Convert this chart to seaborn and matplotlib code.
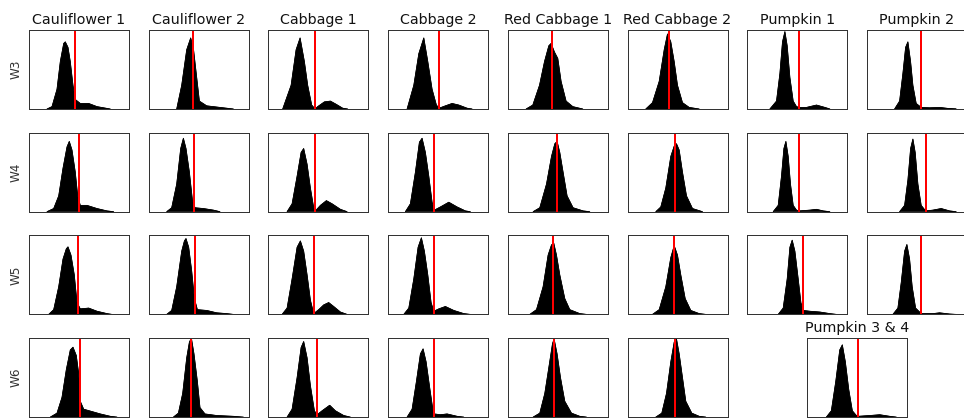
import matplotlib
matplotlib.use("Agg")
import matplotlib.pyplot as plt
import seaborn as sns

# ---------------- data ----------------
columns = ["Cauliflower 1", "Cauliflower 2", "Cabbage 1", "Cabbage 2",
           "Red Cabbage 1", "Red Cabbage 2", "Pumpkin 1", "Pumpkin 2"]
last_row_columns = ["Cauliflower 1", "Cauliflower 2", "Cabbage 1", "Cabbage 2",
                    "Red Cabbage 1", "Red Cabbage 2", "Pumpkin 3 & 4"]
weeks = ["W3", "W4", "W5", "W6"]

# histogram outlines: x in % of panel width, y = relative frequency
w3_x = [
    [18, 23, 28, 31.3, 34.7, 36.3, 39, 41.3, 44, 46.3, 51.3, 59.7, 68, 81.3],
    [28, 33, 38, 42, 44.7, 48, 50.7, 58, 71.3, 84.7],
    [14.3, 22.7, 27.7, 31.7, 36, 39.3, 43.3, 46.7, 49.3, 56, 62, 67.7, 74.3, 79.3],
    [19, 25.7, 30.7, 35.7, 39.7, 44, 48.3, 51, 57.3, 64, 70.7, 79, 84],
    [18.3, 25, 31.7, 36.7, 41, 43.3, 46.7, 50, 53.3, 58.3, 65, 75],
    [18.3, 25, 31.7, 36.7, 40, 43.3, 46.7, 50, 55, 61.7, 71.7],
    [22.7, 29.3, 32.7, 35.3, 37.7, 40, 42.7, 46, 49.3, 52, 59.3, 69.3, 77.7, 82.7],
    [27.7, 32.7, 36, 38.7, 41, 43.7, 46, 49.3, 54.3, 62.7, 72.7, 82.7, 89.3],
]
w3_y = [
    [0, 0.03, 0.25, 0.6, 0.83, 0.85, 0.78, 0.6, 0.3, 0.12, 0.07, 0.07, 0.03, 0],
    [0, 0.3, 0.75, 0.9, 0.77, 0.4, 0.1, 0.04, 0.02, 0],
    [0, 0.3, 0.75, 0.9, 0.6, 0.3, 0.05, 0.0, 0.03, 0.09, 0.1, 0.06, 0.01, 0],
    [0, 0.3, 0.7, 0.9, 0.6, 0.25, 0.05, 0.01, 0.04, 0.07, 0.05, 0.01, 0],
    [0, 0.05, 0.3, 0.6, 0.8, 0.83, 0.72, 0.64, 0.35, 0.1, 0.03, 0],
    [0, 0.08, 0.35, 0.75, 0.95, 0.85, 0.6, 0.3, 0.08, 0.02, 0],
    [0, 0.1, 0.45, 0.85, 0.98, 0.8, 0.4, 0.1, 0.03, 0.02, 0.02, 0.05, 0.02, 0],
    [0, 0.1, 0.45, 0.78, 0.85, 0.6, 0.3, 0.07, 0.02, 0.015, 0.02, 0.005, 0],
]
w3_cut = [46.3, 44, 46.7, 51, 43.7, 41.7, 52, 54.3]

w4_x = [
    [18, 24.7, 29.7, 34, 38, 40.3, 43, 46.3, 48.7, 51.3, 58, 68, 78, 84.7],
    [18, 23, 28, 32, 34.7, 37.3, 40.7, 43.7, 46.3, 54.7, 64.7, 71.3],
    [18.7, 23.7, 28.7, 32.7, 35.3, 38.7, 42, 45.3, 47, 52, 58, 63.7, 72, 78.7],
    [17.3, 22.3, 27.3, 31.3, 34, 37.3, 40.7, 44, 46.3, 52.3, 60.7, 69, 77.3, 82.3],
    [25.3, 32, 38.7, 43.7, 47, 49.3, 52, 55.3, 59.3, 65.3, 75.3, 82],
    [28.3, 33.3, 38.3, 43.3, 46.7, 49, 51.7, 55, 59, 65, 75],
    [26, 31, 34.3, 36.7, 38.7, 41, 43.3, 46, 49.3, 52, 62.7, 69.3, 76, 82.7],
    [32.7, 37.7, 41, 43.7, 46, 48.3, 51, 54.3, 58.7, 66, 74.3, 82.7, 89.3],
]
w4_y = [
    [0, 0.04, 0.2, 0.55, 0.82, 0.89, 0.78, 0.5, 0.2, 0.08, 0.08, 0.04, 0.01, 0],
    [0, 0.05, 0.35, 0.8, 0.93, 0.8, 0.5, 0.15, 0.05, 0.04, 0.02, 0],
    [0, 0.1, 0.45, 0.75, 0.8, 0.6, 0.3, 0.05, 0.01, 0.08, 0.14, 0.1, 0.03, 0],
    [0, 0.1, 0.5, 0.88, 0.93, 0.75, 0.45, 0.12, 0.02, 0.06, 0.12, 0.06, 0.01, 0],
    [0, 0.05, 0.35, 0.7, 0.86, 0.89, 0.75, 0.5, 0.2, 0.05, 0.01, 0],
    [0, 0.06, 0.3, 0.7, 0.83, 0.86, 0.78, 0.5, 0.2, 0.04, 0],
    [0, 0.08, 0.45, 0.8, 0.89, 0.7, 0.35, 0.08, 0.02, 0.01, 0.02, 0.03, 0.01, 0],
    [0, 0.08, 0.4, 0.8, 0.92, 0.75, 0.35, 0.08, 0.01, 0.02, 0.04, 0.01, 0],
]
w4_cut = [49.7, 45.3, 47, 46.3, 48.7, 47.3, 52, 58.7]

w5_x = [
    [19.7, 24.7, 29.7, 34, 37.3, 39, 42, 45.3, 48, 51.3, 59.7, 68, 78, 83],
    [18, 23, 28, 33, 35.7, 37.3, 40, 43, 45.7, 48.7, 58, 68, 78, 84.7],
    [13.7, 18.7, 23.7, 28.7, 32, 35.3, 38.7, 42, 45.3, 50.3, 55.3, 60.3, 65.3, 72, 78.7],
    [15.7, 20.7, 25.7, 30, 33.3, 36.3, 39.7, 43, 45.7, 50.7, 57.3, 65.7, 75.7, 82.3],
    [22, 28.7, 35.3, 40.3, 43.7, 46, 48.7, 52, 57, 62, 72, 78.7],
    [25, 31.7, 38.3, 43.3, 46.7, 50, 53.3, 57.7, 63.3, 71.7, 78.3],
    [31, 36, 40, 42.7, 45, 47.7, 51, 53.7, 56, 62.7, 72.7, 82.7, 89.3],
    [26, 31, 34.3, 37.7, 40, 42.7, 45.3, 48.7, 54.3, 66, 72.7, 82.7, 89.3],
]
w5_y = [
    [0, 0.06, 0.35, 0.7, 0.83, 0.855, 0.75, 0.5, 0.15, 0.07, 0.08, 0.04, 0.01, 0],
    [0, 0.05, 0.35, 0.8, 0.93, 0.96, 0.85, 0.55, 0.2, 0.06, 0.05, 0.02, 0.01, 0],
    [0, 0.08, 0.45, 0.85, 0.93, 0.8, 0.5, 0.18, 0.01, 0.06, 0.12, 0.15, 0.1, 0.03, 0],
    [0, 0.08, 0.45, 0.85, 0.97, 0.8, 0.5, 0.15, 0.04, 0.07, 0.1, 0.05, 0.01, 0],
    [0, 0.06, 0.35, 0.75, 0.88, 0.9, 0.75, 0.5, 0.2, 0.06, 0.01, 0],
    [0, 0.06, 0.35, 0.72, 0.87, 0.75, 0.5, 0.2, 0.05, 0.01, 0],
    [0, 0.08, 0.45, 0.85, 0.94, 0.8, 0.45, 0.15, 0.05, 0.04, 0.03, 0.01, 0],
    [0, 0.08, 0.4, 0.8, 0.885, 0.7, 0.35, 0.08, 0.01, 0.01, 0.02, 0.005, 0],
]
w5_cut = [48.7, 46.7, 45.3, 45.7, 45.3, 46.3, 56, 54.3]

w6_x = [
    [21.3, 28, 33, 37.3, 41.3, 44, 47.3, 49.7, 51.3, 54.7, 63, 71.3, 81.3, 88],
    [24.7, 29.7, 34, 38, 40.7, 42.7, 45.3, 48.7, 51.3, 56.3, 68, 84.7, 94.7],
    [18.7, 23.7, 28.7, 32.7, 35.3, 38.7, 42, 46, 48.7, 53.7, 61.3, 67, 75.3, 82],
    [19, 24, 28.3, 32.3, 35, 38, 41.3, 44.7, 46.3, 52.3, 59, 69, 75.7],
    [25.3, 32, 37, 41.3, 44.7, 46.3, 49.3, 52.7, 57, 63.7, 72, 78.7],
    [28.3, 34.3, 39, 43.3, 46.7, 49, 51.7, 55, 58.3, 64.3, 71.7, 78.3],
    [19.3, 24.3, 28.7, 32.7, 35.3, 38.3, 41.7, 45.3, 49.3, 51, 62.7, 72.7, 82.7, 89.3],
]
w6_y = [
    [0, 0.05, 0.25, 0.6, 0.85, 0.885, 0.78, 0.55, 0.2, 0.1, 0.07, 0.04, 0.01, 0],
    [0, 0.05, 0.3, 0.75, 0.95, 1.0, 0.8, 0.45, 0.12, 0.04, 0.02, 0.01, 0],
    [0, 0.1, 0.5, 0.88, 0.957, 0.75, 0.4, 0.08, 0.03, 0.08, 0.15, 0.08, 0.02, 0],
    [0, 0.1, 0.45, 0.8, 0.864, 0.7, 0.4, 0.1, 0.04, 0.03, 0.04, 0.01, 0],
    [0, 0.05, 0.3, 0.65, 0.93, 0.99, 0.8, 0.5, 0.2, 0.05, 0.01, 0],
    [0, 0.05, 0.3, 0.7, 0.95, 0.99, 0.8, 0.5, 0.2, 0.05, 0.01, 0],
    [0, 0.08, 0.45, 0.85, 0.915, 0.7, 0.35, 0.08, 0.02, 0.01, 0.02, 0.03, 0.01, 0],
]
w6_cut = [51.3, 42.7, 48.7, 46.3, 46.3, 47, 51]

rows_x = [w3_x, w4_x, w5_x, w6_x]
rows_y = [w3_y, w4_y, w5_y, w6_y]
rows_cut = [w3_cut, w4_cut, w5_cut, w6_cut]

# ---------------- figure ----------------
sns.set_style("white")
plt.rcParams["font.family"] = ["DejaVu Sans"]

W, H, DPI = 964, 419, 72
fig = plt.figure(figsize=(W / DPI, H / DPI), dpi=DPI)

col_left0, col_step, ax_w = 29, 119.7, 100
row_top0, row_step, ax_h = 30, 102.7, 79


def make_ax(left_px, top_px):
    return fig.add_axes([left_px / W, 1 - (top_px + ax_h) / H, ax_w / W, ax_h / H])


for r, week in enumerate(weeks):
    top = row_top0 + r * row_step
    n = len(rows_x[r])
    for c in range(n):
        if r == 3 and c == 6:
            left = col_left0 + 6.5 * col_step
            title = last_row_columns[6]
        else:
            left = col_left0 + c * col_step
            title = columns[c] if r == 0 else None
        ax = make_ax(left, top)
        xs, ys = rows_x[r][c], rows_y[r][c]
        ax.fill(list(xs) + [xs[-1], xs[0]], list(ys) + [0, 0],
                facecolor="black", edgecolor="black", lw=0.6)
        sns.lineplot(x=xs, y=ys, ax=ax, color="black", lw=0.8, sort=False,
                     estimator=None)
        ax.axvline(rows_cut[r][c], color="red", lw=2)
        ax.set_xlim(0, 100)
        ax.set_ylim(0, 1.0)
        ax.set_xticks([])
        ax.set_yticks([])
        ax.set_xlabel("")
        ax.set_ylabel("")
        for s in ax.spines.values():
            s.set_visible(True)
            s.set_color("#333333")
            s.set_linewidth(1.0)
        if title:
            ax.set_title(title, fontsize=14.2, color="#111111", pad=6)
        if c == 0:
            ax.set_ylabel(week, fontsize=12, color="#333333", labelpad=6)

fig.savefig("out.png", dpi=DPI, facecolor="white")
